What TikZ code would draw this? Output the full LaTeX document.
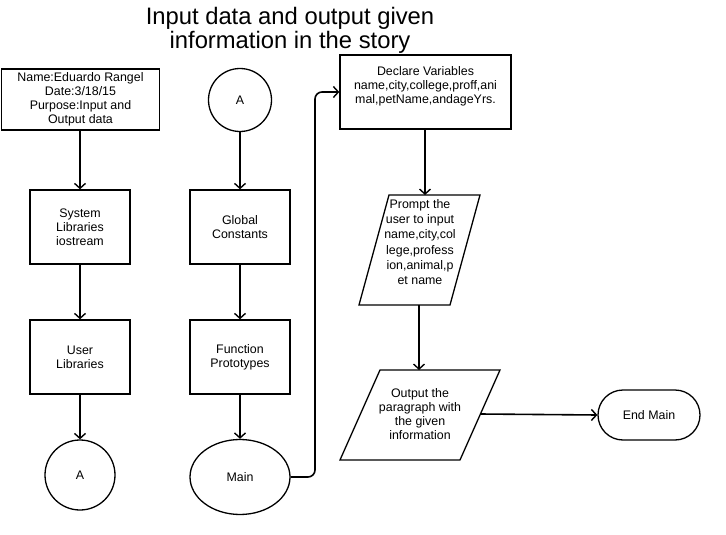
\documentclass[tikz,border=0pt]{standalone}
\usepackage{fontspec}
\setmainfont{Liberation Sans}
\usetikzlibrary{arrows.meta,shapes.geometric}
\begin{document}
\begin{tikzpicture}[x=1pt,y=-1pt,
  every node/.style={font=\fontsize{12.4}{14}\selectfont, align=center, inner sep=0pt},
  box/.style={draw, line width=1.4pt, minimum width=#1},
  conn/.style={line width=1.6pt, -{Straight Barb[length=5pt,width=11pt,line width=1.4pt]}},
  shapeline/.style={line width=1.3pt}
]
\useasboundingbox (0,0) rectangle (726,535);
% title
\node[font=\fontsize{23.8}{24}\selectfont] (title) at (290,30) {Input data and output given\\information in the story};
% left column
\node[box=158, minimum height=61] (head) at (80.5,99.5) {Name:Eduardo Rangel\\Date:3/18/15\\Purpose:Input and\\Output data};
\node[box=100, minimum height=74] (sys) at (80,227) {System\\Libraries\\iostream};
\node[box=100, minimum height=74] (user) at (80,357) {User\\Libraries};
\node[draw, shapeline, circle, minimum size=70] (a1) at (80,475) {A};
% middle column
\node[draw, shapeline, circle, minimum size=63] (a2) at (240,100) {A};
\node[box=100, minimum height=74] (glob) at (240,227) {Global\\Constants};
\node[box=100, minimum height=74] (func) at (240,357) {Function\\Prototypes};
\node[draw, shapeline, ellipse, minimum width=100, minimum height=75] (main) at (240,477) {Main};
% right column
\node[box=171, minimum height=74] (decl) at (425.5,92) {};
\node at (425.5,86) {Declare Variables\\name,city,college,proff,ani\\mal,petName,andageYrs.};
% prompt parallelogram
\node[minimum width=92, minimum height=110] (prompt) at (419.5,250) {};
\draw[shapeline] (389,195) -- (480,195) -- (450,305) -- (359,305) -- cycle;
\node[font=\fontsize{12.4}{15.2}\selectfont] at (420,242) {Prompt the\\user to input\\name,city,col\\lege,profess\\ion,animal,p\\et name};
% output parallelogram
\node[minimum width=120, minimum height=90] (out) at (420,415) {};
\draw[shapeline] (380,370) -- (500,370) -- (460,460) -- (340,460) -- cycle;
\node at (420,414) {Output the\\paragraph with\\the given\\information};
\coordinate (outr) at (480,414);
% end
\node[draw, shapeline, rounded corners=25pt, minimum width=102, minimum height=50] (endm) at (649,415) {End Main};
% connectors
\draw[conn] (head.south -| sys.south) -- (sys.north);
\draw[conn] (sys.south) -- (user.north);
\draw[conn] (user.south) -- (a1.north);
\draw[conn] (a2.south) -- (glob.north);
\draw[conn] (glob.south) -- (func.north);
\draw[conn] (func.south) -- (main.north);
\draw[conn, rounded corners=7pt] (main.east) -- (315,477) -- (315,92) -- (decl.west);
\draw[conn] (decl.south -| 425,0) -- (425,195);
\draw[conn] (419,305) -- (419,370);
\draw[conn] (outr) -- (endm.west);
\end{tikzpicture}
\end{document}
